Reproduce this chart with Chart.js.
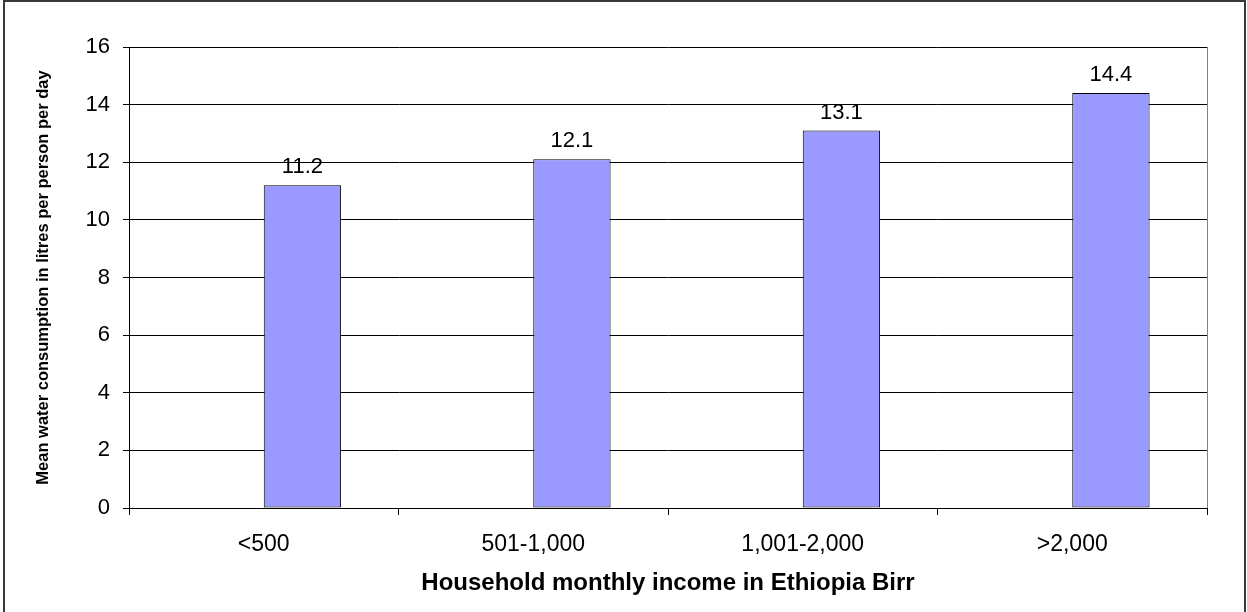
<!DOCTYPE html>
<html>
<head>
<meta charset="utf-8">
<script src="https://cdn.jsdelivr.net/npm/chart.js@4.4.1/dist/chart.umd.min.js"></script>
<style>
    html, body { margin: 0; padding: 0; background: #fff; }
    #wrap { position: relative; width: 1247px; height: 612px; }
</style>
</head>
<body>
<div id="wrap"><canvas id="incomeChart"></canvas></div>
<script>
const categories = ['<500', '501-1,000', '1,001-2,000', '>2,000'];
// la hoja original tiene una serie vacia antes de la serie con datos
const emptySeries = [null, null, null, null];
const consumption = [11.2, 12.1, 13.1, 14.4];
const yTicks = [0, 2, 4, 6, 8, 10, 12, 14, 16];

const FONT = "'Liberation Sans', Arial, sans-serif";

// marco exterior y borde derecho del area de trazado
const framePlugin = {
    id: 'frame',
    afterDraw(chart) {
        const ctx = chart.ctx;
        const area = chart.chartArea;
        ctx.save();
        ctx.strokeStyle = '#808080';
        ctx.lineWidth = 1;
        ctx.beginPath();
        ctx.moveTo(area.right + 0.5, area.top);
        ctx.lineTo(area.right + 0.5, area.bottom);
        ctx.stroke();

        ctx.strokeStyle = '#3a3a3a';
        ctx.lineWidth = 2;
        ctx.beginPath();
        ctx.moveTo(4, chart.height + 2);
        ctx.lineTo(4, 1);
        ctx.lineTo(chart.width - 2, 1);
        ctx.lineTo(chart.width - 2, chart.height + 2);
        ctx.stroke();
        ctx.restore();
    }
};

// etiquetas de valor encima de cada barra
const valueLabels = {
    id: 'valueLabels',
    afterDatasetsDraw(chart) {
        const ctx = chart.ctx;
        const meta = chart.getDatasetMeta(1);
        ctx.save();
        ctx.font = `22px ${FONT}`;
        ctx.fillStyle = '#000';
        ctx.textAlign = 'center';
        ctx.textBaseline = 'alphabetic';
        meta.data.forEach((bar, i) => {
            ctx.fillText(consumption[i].toFixed(1), bar.x, bar.y - 12);
        });
        ctx.restore();
    }
};

const ctx = document.getElementById('incomeChart').getContext('2d');

new Chart(ctx, {
    type: 'bar',
    data: {
        labels: categories,
        datasets: [{
            data: emptySeries,
            backgroundColor: '#993366',
            categoryPercentage: 0.574,
            barPercentage: 1
        }, {
            data: consumption,
            backgroundColor: '#9999FF',
            borderColor: '#000000',
            borderWidth: 1,
            borderSkipped: false,
            categoryPercentage: 0.574,
            barPercentage: 1
        }]
    },
    options: {
        responsive: true,
        maintainAspectRatio: false,
        animation: false,
        devicePixelRatio: 1,
        layout: { padding: { left: 0, right: 40, top: 47, bottom: 0 } },
        plugins: {
            legend: { display: false },
            tooltip: { enabled: false }
        },
        scales: {
            x: {
                offset: true,
                afterFit: (scale) => { scale.height = 104; },
                grid: {
                    offset: true,
                    drawOnChartArea: false,
                    drawTicks: true,
                    tickLength: 7,
                    color: '#000'
                },
                border: { color: '#000', width: 1 },
                ticks: {
                    color: '#000',
                    padding: 16,
                    font: { family: FONT, size: 23 }
                },
                title: {
                    display: true,
                    text: 'Household monthly income in Ethiopia Birr',
                    color: '#000',
                    padding: { top: 0, bottom: 14 },
                    font: { family: FONT, size: 24, weight: 'bold' }
                }
            },
            y: {
                min: 0,
                max: 16,
                afterFit: (scale) => { scale.width = 129; },
                afterBuildTicks: (scale) => {
                    scale.ticks = yTicks.map(v => ({ value: v }));
                },
                grid: {
                    color: '#000',
                    lineWidth: 1,
                    tickLength: 6
                },
                border: { color: '#000', width: 1 },
                ticks: {
                    color: '#000',
                    padding: 13,
                    font: { family: FONT, size: 22 }
                },
                title: {
                    display: true,
                    text: 'Mean water consumption in litres per person per day',
                    color: '#000',
                    padding: { top: 34, bottom: 0 },
                    font: { family: FONT, size: 16.5, weight: 'bold' }
                }
            }
        }
    },
    plugins: [framePlugin, valueLabels]
});
</script>
</body>
</html>
